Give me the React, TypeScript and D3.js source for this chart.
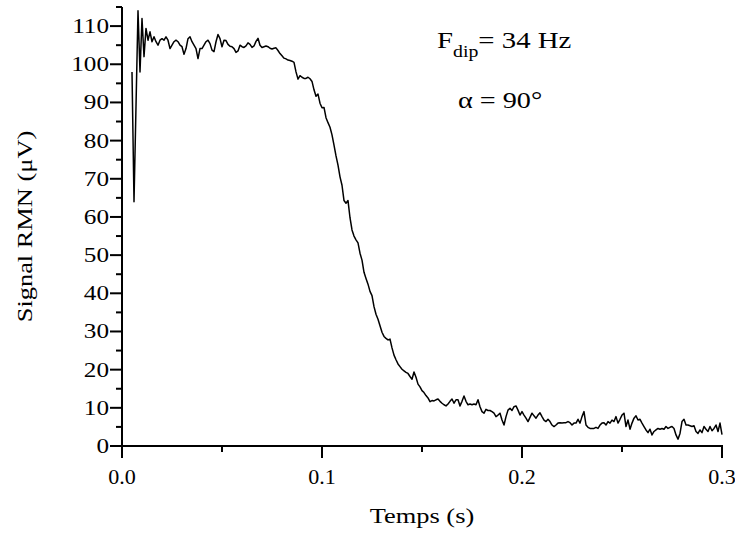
import React from "react";
import * as d3 from "d3";

const T_START = 0.005;
const T_STEP = 0.001;
// NMR signal (µV), sampled every 1 ms from 5 ms to 300 ms
const signal: number[] = [
  98, 64, 89, 114, 98, 112, 102, 109.4, 106.3, 108.5,
  105.9, 107.2, 105.9, 105, 106.3, 106.7, 106.3, 107.2, 106.3, 104.1,
  105, 105.9, 106.3, 105.9, 105, 104.6, 102.6, 104.1, 106.7, 107.2,
  105.9, 105, 104.1, 101.5, 104.1, 104.1, 105, 105.9, 106.3, 105.4,
  103.7, 103.3, 105.9, 107.8, 106.7, 104.6, 106.3, 106.2, 105.2, 104.7,
  104.6, 104.1, 103.1, 103.5, 105, 104.6, 104.4, 104.8, 105.6, 105.2,
  104.4, 104.8, 106, 106.8, 105, 104.4, 104.6, 104.8, 104.6, 104.2,
  104, 104.2, 104.3, 103.6, 102.8, 102.2, 101.6, 101.4, 101.1, 101,
  100.8, 100.5, 98, 96.1, 97, 96.6, 96.3, 96.3, 96.6, 96.2,
  95.5, 93.3, 91.6, 92.2, 89.8, 88.6, 88.7, 86, 84.7, 83.5,
  81.5, 78.8, 76, 73.6, 70.5, 68.3, 64.3, 63.6, 64.3, 59.8,
  56.6, 55, 54, 53.2, 50.5, 48.7, 45.5, 43.9, 42.4, 40.5,
  39.4, 36.5, 34.5, 33.2, 31.5, 29.8, 28.7, 28.2, 27.8, 28,
  25.7, 23.8, 22.6, 21.5, 20.8, 20.1, 19.7, 19.3, 19, 18.2,
  17.5, 19.4, 18, 16.2, 15.5, 14.5, 14, 13.2, 12.6, 11.6,
  11.9, 11.8, 12.1, 12.3, 11.7, 11.2, 10.8, 10.5, 11, 11.7,
  12.3, 11.2, 12.1, 12.1, 10.5, 11.7, 13.1, 11.7, 10.8, 11,
  10.8, 11, 10.8, 12.1, 10.3, 9, 8.6, 9.6, 9.3, 9.3,
  9, 8.6, 7.7, 8.1, 8.6, 6.8, 5.5, 7.7, 9.4, 9.9,
  9.3, 10.3, 10.5, 9.4, 8.1, 9, 8.1, 7.3, 6.4, 7.5,
  8.6, 7.9, 7.3, 8.1, 8.7, 7.7, 6.8, 6.4, 7, 6.4,
  5.5, 5.1, 5.5, 6, 6.1, 6, 6.1, 6.1, 6.4, 6.1,
  5.5, 6, 6, 7, 6, 7.7, 9, 5.5, 4.9, 4.6,
  4.6, 4.6, 4.9, 4.6, 5.5, 6, 6.1, 5.5, 6.4, 6,
  6.8, 6.4, 7.7, 6, 7, 8.1, 8.6, 5.1, 6.8, 4.4,
  6, 7.3, 7.9, 6.8, 7, 6, 5.1, 4.2, 3.5, 4.4,
  2.9, 3.8, 4.2, 4.6, 4.4, 4.6, 4.4, 5.1, 4.6, 4.9,
  5.1, 4.6, 2.9, 1.8, 3.3, 6.4, 7, 5.5, 5.5, 5.3,
  5.1, 5.3, 3.8, 3.3, 4.2, 3.5, 5.1, 4.4, 3.8, 5.1,
  4, 4.6, 5.5, 3.8, 6, 3,
];

const xMajorTicks = [0, 0.1, 0.2, 0.3];
const xMinorTicks = [0.05, 0.15, 0.25];
const yMajorTicks = [0, 10, 20, 30, 40, 50, 60, 70, 80, 90, 100, 110];
const yMinorTicks = [5, 15, 25, 35, 45, 55, 65, 75, 85, 95, 105, 115];

const X_DOMAIN: [number, number] = [0, 0.3];
const Y_DOMAIN: [number, number] = [0, 115];

const FONT = "'Liberation Serif', 'Times New Roman', serif";
const SX = 1.2;

function T({ x, y, anchor = "start", size = 21, rotate = 0, sx = SX, children }: any) {
  const tr = rotate
    ? `translate(${x},${y}) rotate(${rotate}) scale(${sx},1)`
    : `translate(${x},${y}) scale(${sx},1)`;
  return (
    <g transform={tr}>
      <text x={0} y={0} textAnchor={anchor} fontFamily={FONT} fontSize={size} fill="#000">
        {children}
      </text>
    </g>
  );
}

export default function App() {
  const left = 122, right = 722, top = 7, bottom = 446;
  const x = d3.scaleLinear().domain(X_DOMAIN).range([left, right]);
  const y = d3.scaleLinear().domain(Y_DOMAIN).range([bottom, top]);
  const pts: [number, number][] = signal.map((v, i) => [T_START + i * T_STEP, v]);
  const line = d3
    .line<[number, number]>()
    .x((d) => x(d[0]))
    .y((d) => y(d[1]));

  const fmtX = d3.format(".1f");

  return (
    <svg
      width={735}
      height={540}
      style={{ position: "absolute", left: 0, top: 0, background: "#fff" }}
    >
      <rect x={0} y={0} width={735} height={540} fill="#fff" />
      <path d={line(pts) || ""} fill="none" stroke="#000" strokeWidth={1.5} strokeLinejoin="round" />

      {/* y axis */}
      <line x1={left} x2={left} y1={y(Y_DOMAIN[1])} y2={y(0)} stroke="#000" strokeWidth={2} />
      {yMajorTicks.map((v) => (
        <g key={"ym" + v}>
          <line x1={left - 12} x2={left} y1={y(v)} y2={y(v)} stroke="#000" strokeWidth={2} />
          <T x={left - 13} y={y(v) + 7} anchor="end" size={21}>
            {String(v)}
          </T>
        </g>
      ))}
      {yMinorTicks.map((v) => (
        <line key={"yn" + v} x1={left - 6} x2={left} y1={y(v)} y2={y(v)} stroke="#000" strokeWidth={2} />
      ))}

      {/* x axis */}
      <line x1={x(X_DOMAIN[0]) - 1} x2={x(X_DOMAIN[1]) + 1} y1={bottom} y2={bottom} stroke="#000" strokeWidth={2} />
      {xMajorTicks.map((v) => (
        <g key={"xm" + v}>
          <line x1={x(v)} x2={x(v)} y1={bottom} y2={bottom + 12} stroke="#000" strokeWidth={2} />
          <T x={x(v)} y={484} anchor="middle" size={21} sx={1.05}>
            {fmtX(v)}
          </T>
        </g>
      ))}
      {xMinorTicks.map((v) => (
        <line key={"xn" + v} x1={x(v)} x2={x(v)} y1={bottom} y2={bottom + 6} stroke="#000" strokeWidth={2} />
      ))}

      {/* axis titles */}
      <T x={(left + right) / 2} y={523} anchor="middle" size={22}>
        Temps (s)
      </T>
      <T x={32} y={(top + bottom) / 2} anchor="middle" size={22} rotate={-90}>
        Signal RMN (μV)
      </T>

      {/* annotations */}
      <g transform={`translate(437,48) scale(${SX},1)`}>
        <text fontFamily={FONT} fontSize={24} fill="#000">
          <tspan>F</tspan>
          <tspan fontSize={16.5} dy={9}>dip</tspan>
          <tspan dy={-9}>= 34 Hz</tspan>
        </text>
      </g>
      <T x={458} y={108} size={23.5}>
        α = 90°
      </T>
    </svg>
  );
}
